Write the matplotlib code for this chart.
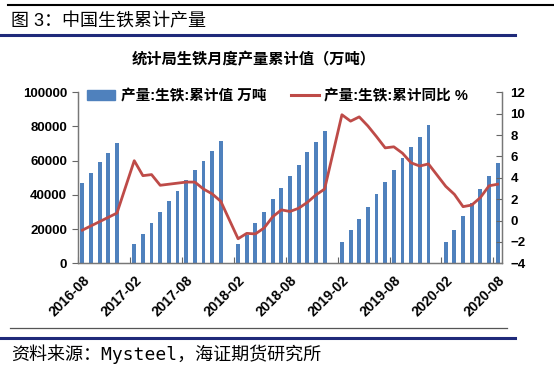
import numpy as np
import matplotlib.pyplot as plt
from matplotlib.patches import Patch
from matplotlib.lines import Line2D

# monthly cumulative pig iron output (万吨) and cumulative yoy (%), 2016-08 .. 2020-08
# January is not published (Jan-Feb reported together) -> None
months = [f"{y}-{m:02d}" for y in range(2016, 2021) for m in range(1, 13)][7:56]

output = [46800, 53000, 59100, 64300, 70200,
          None, 11100, 17100, 23700, 29800, 36300, 42100, 48700, 54600, 60000, 65500, 71300,
          None, 11100, 16800, 23600, 30200, 37400, 43900, 51200, 57500, 64900, 70800, 77500,
          None, 12300, 19500, 25900, 33100, 40500, 47400, 54600, 61400, 67800, 73900, 80900,
          None, 12600, 19300, 27700, 35100, 43300, 51200, 58800]

yoy = [-0.9, -0.5, -0.1, 0.3, 0.7,
       None, 5.6, 4.2, 4.3, 3.3, 3.4, 3.5, 3.6, 3.6, 2.95, 2.5, 1.8,
       None, -1.7, -1.2, -1.25, -0.7, 0.35, 1.0, 0.85, 1.15, 1.7, 2.4, 2.95,
       None, 9.9, 9.3, 9.7, 8.85, 7.85, 6.8, 6.9, 6.3, 5.4, 5.1, 5.3,
       None, 3.2, 2.45, 1.3, 1.45, 2.15, 3.25, 3.4]

tick_labels = ["2016-08", "2017-02", "2017-08", "2018-02", "2018-08",
               "2019-02", "2019-08", "2020-02", "2020-08"]

BAR_C = "#4F81BD"
LINE_C = "#BE4B48"
NAVY = "#1F2A7A"
cjk = ["Liberation Sans", "Noto Sans CJK SC"]

plt.rcParams["font.family"] = cjk

fig = plt.figure(figsize=(5.54, 3.71), dpi=100)
W, H = 554, 371

def fx(px):
    return px / W

def fy(py):
    return 1 - py / H

ax = fig.add_axes([fx(78), fy(263.3), fx(502) - fx(78), fy(92.3) - fy(263.3)])
ax2 = ax.twinx()

# bars (skip the missing Januaries)
xb = [i for i, v in enumerate(output) if v is not None]
hb = [v for v in output if v is not None]
ax.bar(xb, hb, width=0.45, color=BAR_C, zorder=2)

# line connects across the gaps
xl = [i for i, v in enumerate(yoy) if v is not None]
yl = [v for v in yoy if v is not None]
ax2.plot(xl, yl, color=LINE_C, lw=2.0, solid_joinstyle="round", zorder=3)

n = len(months)
ax.set_xlim(-0.5, n - 0.5)
ax.set_ylim(0, 100000)
ax.set_yticks(np.arange(0, 100001, 20000))
ax2.set_ylim(-4, 12)
ax2.set_yticks(np.arange(-4, 13, 2))

ax.set_xticks([months.index(t) for t in tick_labels])
ax.set_xticklabels(tick_labels, rotation=45, ha="right", rotation_mode="anchor",
                   fontsize=10, fontweight="bold")
ax.set_xticks(np.arange(-0.5, n, 6), minor=True)
ax.tick_params(axis="x", which="major", length=0, pad=7)
ax.tick_params(axis="x", which="minor", length=4, direction="in", width=0.8, color="#666666")
ax.tick_params(axis="y", length=4, direction="out", width=0.8, labelsize=9.5, pad=4, color="#666666")
ax2.tick_params(axis="y", length=4, direction="in", width=0.8, labelsize=9.5, pad=6, color="#666666")
for lab in ax.get_yticklabels() + ax2.get_yticklabels():
    lab.set_fontweight("bold")

for a in (ax, ax2):
    a.spines["top"].set_visible(False)
    for s in ("left", "right", "bottom"):
        a.spines[s].set_color("#777777")
        a.spines[s].set_linewidth(0.9)

# legend
handles = [Patch(color=BAR_C), Line2D([0], [0], color=LINE_C, lw=2.2)]
labels = ["产量:生铁:累计值 万吨", "产量:生铁:累计同比 %"]
fig.legend(handles, labels, ncol=2, loc="center left", bbox_to_anchor=(fx(87), fy(96)),
           frameon=False, borderpad=0, borderaxespad=0, handlelength=1.95, handleheight=0.6,
           handletextpad=0.35, columnspacing=1.7,
           prop={"family": cjk, "weight": "bold", "size": 10.5})

# chart title
fig.text(fx(254), fy(60), "统计局生铁月度产量累计值（万吨）", ha="center", va="center",
         fontsize=11, fontweight="bold", family=cjk)

# report header / footer
fig.add_artist(Line2D([fx(8), 1], [fy(5), fy(5)], color="black", lw=1.5))
fig.text(fx(11), fy(22), "图 3：中国生铁累计产量", ha="left", va="center", fontsize=13, family=cjk)
fig.add_artist(Line2D([0, fx(515)], [fy(35), fy(35)], color=NAVY, lw=2.2))
fig.add_artist(Line2D([fx(10), fx(507)], [fy(328), fy(328)], color="#555555", lw=0.9))
fig.add_artist(Line2D([0, fx(515)], [fy(337.5), fy(337.5)], color=NAVY, lw=2.2))
fig.text(fx(11), fy(354), "资料来源：Mysteel，海证期货研究所", ha="left", va="center",
         fontsize=13, family=["DejaVu Sans Mono", "Noto Sans CJK SC"])

fig.savefig("out.png", dpi=100)
